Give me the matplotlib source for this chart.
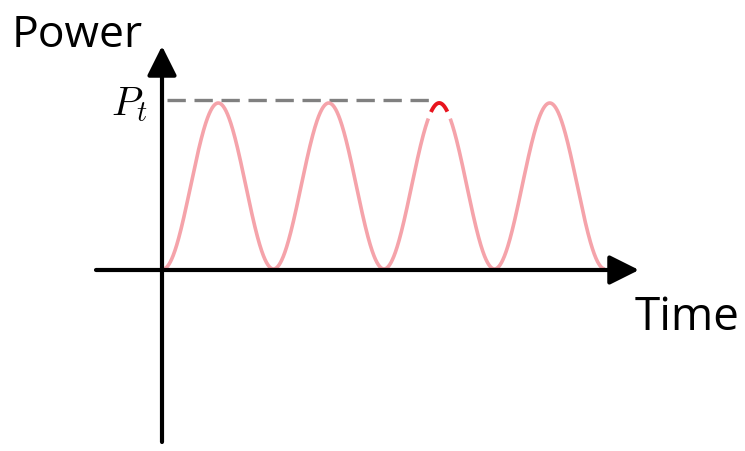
import numpy as np
import matplotlib
matplotlib.use("Agg")
import matplotlib.pyplot as plt

# Data (time in periods, power normalized to P_t)
n_periods = 4
peak_power = 1.0
highlight_period = 2  # zero-based index of highlighted peak
highlight_halfwidth = 0.075
axis_labels = ["Power", "Time"]
peak_label = r"$P_t$"

plt.rcParams['mathtext.fontset'] = 'cm'

fig = plt.figure(figsize=(7.45, 4.52), dpi=100)
ax = fig.add_axes([0, 0, 1, 1])
px_x0, px_xs = 163.0, 110.5
px_y0, px_ys = 270.0, 166.0
ax.set_xlim(-px_x0 / px_xs, (745 - px_x0) / px_xs)
ax.set_ylim((px_y0 - 452) / px_ys, px_y0 / px_ys)
ax.axis('off')

t = np.linspace(0, n_periods, 2000)
p = peak_power * 0.5 * (1 - np.cos(2 * np.pi * t))
ax.plot(t, p, color='#f5a3aa', lw=2.6, solid_capstyle='butt', zorder=2)

# highlighted peak
tc = highlight_period + 0.5
mask_w = (t > tc - highlight_halfwidth - 0.025) & (t < tc + highlight_halfwidth + 0.025)
ax.plot(t[mask_w], p[mask_w], color='white', lw=6, zorder=3, solid_capstyle='butt')
mask_r = (t > tc - highlight_halfwidth) & (t < tc + highlight_halfwidth)
ax.plot(t[mask_r], p[mask_r], color='#e8141e', lw=2.8, zorder=4, solid_capstyle='butt')

# dashed line at P_t
ax.plot([0.04, tc - 0.05], [peak_power * 1.02] * 2, color='#808080', lw=2.4,
        dashes=(5.5, 2.6), zorder=1)

# axes arrows
arrow_kw = dict(arrowstyle='-|>,head_length=0.9,head_width=0.45', lw=3, color='black',
                mutation_scale=20, shrinkA=0, shrinkB=0)
ax.annotate('', xy=(-1 / px_xs, (px_y0 - 47) / px_ys), xytext=(-1 / px_xs, (px_y0 - 443) / px_ys),
            arrowprops=arrow_kw, zorder=5)
ax.annotate('', xy=((639 - px_x0) / px_xs, -1 / px_ys), xytext=((96 - px_x0) / px_xs, -1 / px_ys),
            arrowprops=arrow_kw, zorder=5)

ax.text(0.016, 0.97, axis_labels[0], transform=fig.transFigure, fontsize=32,
        family='Open Sans', ha='left', va='top')
ax.text(0.992, 0.245, axis_labels[1], transform=fig.transFigure, fontsize=33,
        family='Open Sans', ha='right', va='bottom')
ax.text(-0.13, peak_power, peak_label, fontsize=29, ha='right', va='center')

fig.savefig('out.png', dpi=100)
